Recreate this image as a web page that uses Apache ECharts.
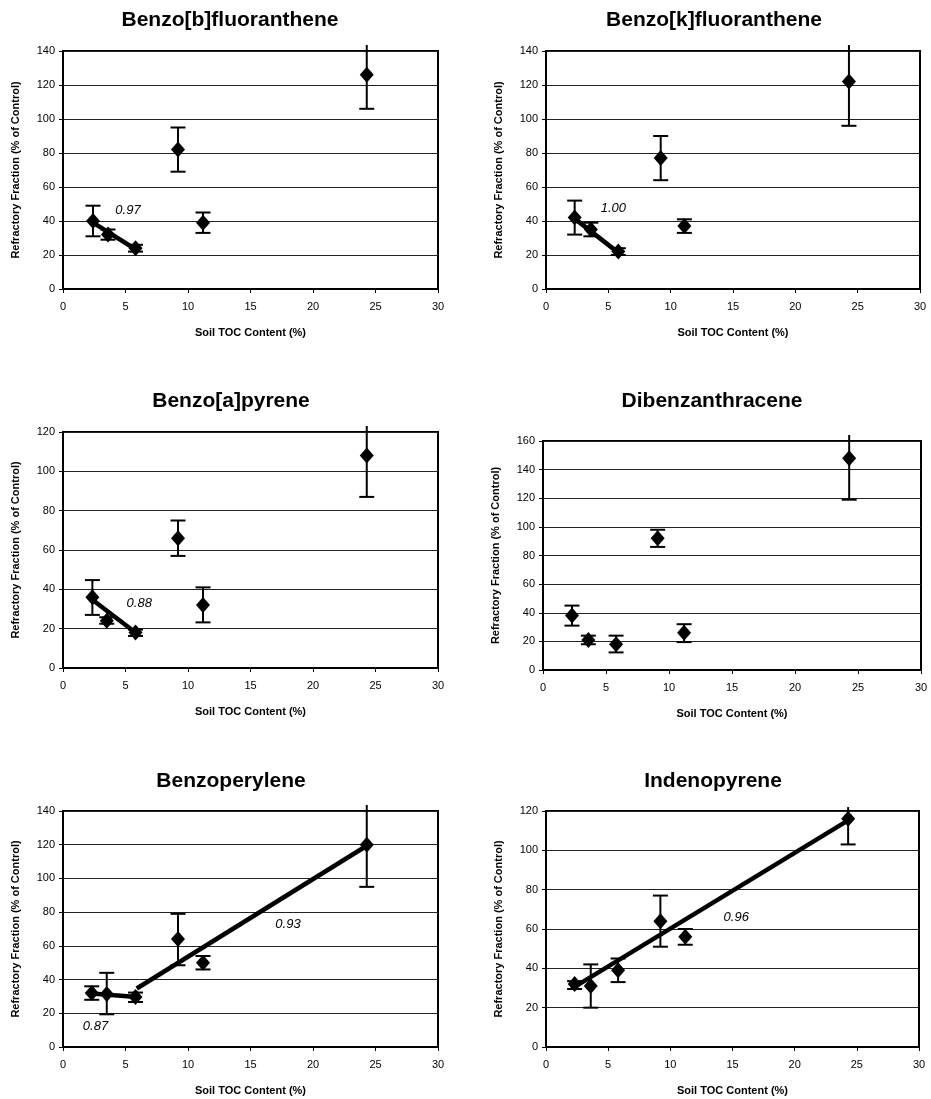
<!DOCTYPE html>
<html>
<head>
<meta charset="utf-8">
<script src="https://cdn.jsdelivr.net/npm/echarts/dist/echarts.min.js"></script>
<style>
html,body{margin:0;padding:0;background:#fff;}
#chart{width:931px;height:1099px;}
</style>
</head>
<body>
<div id="chart"></div>
<script>
// ---------- Data ----------
const panelTitles = ['Benzo[b]fluoranthene','Benzo[k]fluoranthene','Benzo[a]pyrene','Dibenzanthracene','Benzoperylene','Indenopyrene'];
const xAxisName = 'Soil TOC Content (%)';
const yAxisName = 'Refractory Fraction (% of Control)';
const xTicks = [0, 5, 10, 15, 20, 25, 30];
const yMaxes = [140, 140, 120, 160, 140, 120];

// Benzo[b]fluoranthene
const bbfX  = [2.4, 3.6, 5.8, 9.2, 11.2, 24.3];
const bbfY  = [40, 32, 24, 82, 39, 126];
const bbfLo = [31, 29, 22, 69, 33, 106];
const bbfHi = [49, 35, 26, 95, 45, 146];
// Benzo[k]fluoranthene
const bkfX  = [2.3, 3.6, 5.8, 9.2, 11.1, 24.3];
const bkfY  = [42, 35, 22, 77, 37, 122];
const bkfLo = [32, 31, 20, 64, 33, 96];
const bkfHi = [52, 39, 24, 90, 41, 148];
// Benzo[a]pyrene
const bapX  = [2.35, 3.5, 5.8, 9.2, 11.2, 24.3];
const bapY  = [36, 24, 18, 66, 32, 108];
const bapLo = [27, 22.5, 16.3, 57, 23.2, 87];
const bapHi = [44.7, 25.8, 19.5, 75, 41, 130];
// Dibenzanthracene
const dbaX  = [2.3, 3.6, 5.8, 9.1, 11.2, 24.3];
const dbaY  = [38, 21, 18, 92, 26, 148];
const dbaLo = [31, 18, 12.3, 86, 19.5, 119];
const dbaHi = [45, 24, 24, 98, 32, 170];
// Benzoperylene
const bpeX  = [2.3, 3.5, 5.8, 9.2, 11.2, 24.3];
const bpeY  = [32, 31.5, 29.7, 64, 50, 120];
const bpeLo = [28, 19.4, 26.7, 48.5, 46, 95];
const bpeHi = [36, 44, 32.3, 79, 54, 146];
// Indenopyrene
const indX  = [2.3, 3.6, 5.8, 9.2, 11.2, 24.3];
const indY  = [32, 31, 39, 64, 56, 116];
const indLo = [29.5, 20, 33, 51, 52, 103];
const indHi = [33.5, 42, 45, 77, 60, 122];

// Trend lines (endpoints)
const trendBbf = [[[2.4, 39], [5.8, 23.4]]];
const trendBkf = [[[2.3, 41.4], [5.8, 21.4]]];
const trendBap = [[[2.35, 34.7], [5.9, 17.5]]];
const trendDba = [];
const trendBpe = [[[2.3, 31.7], [5.9, 29.7]], [[5.9, 34.7], [24.3, 119.4]]];
const trendInd = [[[2.3, 30.6], [24.3, 115.2]]];

// r values annotations
const notesBbf = [{text: '0.97', at: [5.2, 46]}];
const notesBkf = [{text: '1.00', at: [5.4, 47.5]}];
const notesBap = [{text: '0.88', at: [6.1, 33]}];
const notesDba = [];
const notesBpe = [{text: '0.87', at: [2.6, 12.3]}, {text: '0.93', at: [18, 73]}];
const notesInd = [{text: '0.96', at: [15.3, 66]}];

const panels = [
  {x: bbfX, y: bbfY, lo: bbfLo, hi: bbfHi, trend: trendBbf, notes: notesBbf},
  {x: bkfX, y: bkfY, lo: bkfLo, hi: bkfHi, trend: trendBkf, notes: notesBkf},
  {x: bapX, y: bapY, lo: bapLo, hi: bapHi, trend: trendBap, notes: notesBap},
  {x: dbaX, y: dbaY, lo: dbaLo, hi: dbaHi, trend: trendDba, notes: notesDba},
  {x: bpeX, y: bpeY, lo: bpeLo, hi: bpeHi, trend: trendBpe, notes: notesBpe},
  {x: indX, y: indY, lo: indLo, hi: indHi, trend: trendInd, notes: notesInd}
];

// ---------- Layout ----------
const gridBoxes = [
  {left: 63,  top: 51,  width: 375, height: 238},
  {left: 546, top: 51,  width: 374, height: 238},
  {left: 63,  top: 432, width: 375, height: 236},
  {left: 543, top: 441, width: 378, height: 229},
  {left: 63,  top: 811, width: 375, height: 236},
  {left: 546, top: 811, width: 373, height: 236}
];
const titlePos = [
  {x: 225, y: 5}, {x: 709, y: 5},
  {x: 226, y: 386}, {x: 707, y: 386},
  {x: 226, y: 766}, {x: 708, y: 766}
];

const FONT = '"Liberation Sans", Arial, Helvetica, sans-serif';

function errRender(params, api) {
  const x = api.value(0), lo = api.value(1), hi = api.value(2);
  const cs = params.coordSys;
  const pLo = api.coord([x, lo]);
  const pHi = api.coord([x, hi]);
  let topY = pHi[1];
  let capTop = true;
  if (topY < cs.y) { capTop = false; topY = Math.max(topY, cs.y - 6); }
  const hw = 7.5;
  const style = {stroke: '#000', lineWidth: 2, fill: null};
  const children = [
    {type: 'line', shape: {x1: pLo[0], y1: pLo[1], x2: pLo[0], y2: topY}, style: style},
    {type: 'line', shape: {x1: pLo[0] - hw, y1: pLo[1], x2: pLo[0] + hw, y2: pLo[1]}, style: style}
  ];
  if (capTop) children.push({type: 'line', shape: {x1: pHi[0] - hw, y1: pHi[1], x2: pHi[0] + hw, y2: pHi[1]}, style: style});
  return {type: 'group', children: children};
}

const option = {
  backgroundColor: '#fff',
  animation: false,
  title: panelTitles.map((t, i) => ({
    text: t, left: titlePos[i].x, top: titlePos[i].y, textAlign: 'center',
    textStyle: {fontFamily: FONT, fontWeight: 900, fontSize: 21, color: '#000'}
  })),
  grid: gridBoxes.map(g => Object.assign({show: true, borderColor: '#000', borderWidth: 2, backgroundColor: 'transparent', containLabel: false}, g)),
  xAxis: gridBoxes.map((g, i) => ({
    type: 'value', gridIndex: i, min: xTicks[0], max: xTicks[xTicks.length - 1], interval: 5,
    name: xAxisName, nameLocation: 'middle', nameGap: 38,
    nameTextStyle: {fontFamily: FONT, fontWeight: 'bold', fontSize: 11, color: '#000'},
    axisLine: {show: true, onZero: false, lineStyle: {color: '#000', width: 2}},
    axisTick: {show: true, length: 4, lineStyle: {color: '#000', width: 1}},
    axisLabel: {fontFamily: FONT, fontSize: 11, color: '#000', margin: 12},
    splitLine: {show: false}
  })),
  yAxis: gridBoxes.map((g, i) => ({
    type: 'value', gridIndex: i, min: 0, max: yMaxes[i], interval: 20,
    name: yAxisName, nameLocation: 'middle', nameGap: 42,
    nameTextStyle: {fontFamily: FONT, fontWeight: 'bold', fontSize: 11, color: '#000'},
    axisLine: {show: true, onZero: false, lineStyle: {color: '#000', width: 2}},
    axisTick: {show: true, length: 4, lineStyle: {color: '#000', width: 1}},
    axisLabel: {fontFamily: FONT, fontSize: 11, color: '#000', margin: 8},
    splitLine: {show: true, lineStyle: {color: '#222', width: 1}}
  })),
  series: []
};

panels.forEach((p, i) => {
  // trend lines
  p.trend.forEach(seg => {
    option.series.push({
      type: 'line', xAxisIndex: i, yAxisIndex: i, data: seg, showSymbol: false, symbol: 'none',
      lineStyle: {color: '#000', width: 4.5}, z: 3, silent: true
    });
  });
  // error bars
  option.series.push({
    type: 'custom', xAxisIndex: i, yAxisIndex: i, renderItem: errRender, clip: false,
    data: p.x.map((x, k) => [x, p.lo[k], p.hi[k]]), encode: {x: 0, y: [1, 2]}, z: 4, silent: true
  });
  // points
  option.series.push({
    type: 'scatter', xAxisIndex: i, yAxisIndex: i, symbol: 'diamond', symbolSize: [14, 16],
    itemStyle: {color: '#000', opacity: 1}, data: p.x.map((x, k) => [x, p.y[k]]), z: 5, silent: true
  });
  // notes
  if (p.notes.length) {
    option.series.push({
      type: 'scatter', xAxisIndex: i, yAxisIndex: i, symbolSize: 0, silent: true, z: 6,
      itemStyle: {opacity: 1},
      data: p.notes.map(n => ({name: n.text, value: n.at})),
      label: {show: true, position: 'inside', formatter: '{b}', fontFamily: FONT, fontStyle: 'italic',
              fontSize: 13, color: '#000', opacity: 1}
    });
  }
});

const chart = echarts.init(document.getElementById('chart'), null, {renderer: 'canvas'});
chart.setOption(option);
</script>
</body>
</html>
